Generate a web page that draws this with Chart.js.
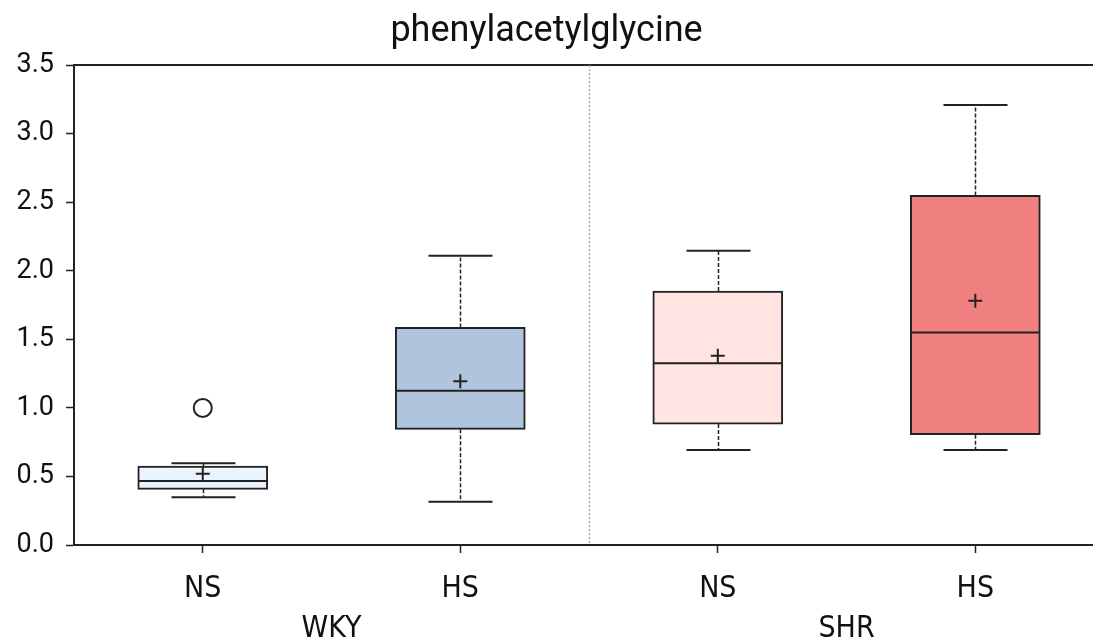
<!DOCTYPE html>
<html>
<head>
<meta charset="utf-8">
<script src="https://cdn.jsdelivr.net/npm/chart.js@4.4.1/dist/chart.umd.min.js"></script>
<style>
  html, body { margin: 0; padding: 0; background: #fff; overflow: hidden; }
  canvas { display: block; }
</style>
</head>
<body>
<canvas id="grafico" width="1093" height="641"></canvas>
<script>
// categorias
const subLabels = ['NS', 'HS', 'NS', 'HS'];
const groupLabels = ['WKY', 'SHR'];
const positions = [0, 1, 2, 3];
const groupPositions = [0.5, 2.5];
const divider = 1.5;

// estatisticas de cada caixa
const whiskerLow = [0.348, 0.316, 0.693, 0.693];
const q1 = [0.406, 0.844, 0.882, 0.804];
const median = [0.467, 1.125, 1.325, 1.551];
const q3 = [0.576, 1.587, 1.852, 2.55];
const whiskerHigh = [0.596, 2.11, 2.146, 3.21];
const means = [0.52, 1.194, 1.38, 1.781];
const outliers = [{ x: 0, y: 1.0 }];

const yTicks = [0, 0.5, 1.0, 1.5, 2.0, 2.5, 3.0, 3.5];

const boxColors = ['#ebf4fd', '#b0c4de', '#ffe4e1', '#f08080'];
const ink = '#222';

// bigodes, tampas e mediana
const boxPlugin = {
    id: 'boxExtras',
    beforeDatasetsDraw(chart) {
        const { ctx, scales: { x }, chartArea } = chart;
        // linha pontilhada separando os grupos
        ctx.save();
        ctx.strokeStyle = '#aaa';
        ctx.lineWidth = 1.5;
        ctx.setLineDash([2, 2]);
        const dx = Math.round(x.getPixelForValue(divider)) + 0.5;
        ctx.beginPath();
        ctx.moveTo(dx, chartArea.top);
        ctx.lineTo(dx, chartArea.bottom);
        ctx.stroke();
        ctx.restore();
    },
    afterDatasetDraw(chart, args) {
        if (args.index !== 0) return;
        const { ctx, scales: { x, y } } = chart;
        const half = 64.5;
        const cap = 32;
        ctx.save();
        ctx.strokeStyle = ink;
        positions.forEach((p, i) => {
            const cx = Math.round(x.getPixelForValue(p)) + 0.5;
            // bigodes tracejados
            ctx.lineWidth = 1.5;
            ctx.setLineDash([4, 2]);
            ctx.beginPath();
            ctx.moveTo(cx, y.getPixelForValue(q3[i]));
            ctx.lineTo(cx, y.getPixelForValue(whiskerHigh[i]));
            ctx.moveTo(cx, y.getPixelForValue(q1[i]));
            ctx.lineTo(cx, y.getPixelForValue(whiskerLow[i]));
            ctx.stroke();
            // tampas
            ctx.setLineDash([]);
            ctx.lineWidth = 2;
            ctx.beginPath();
            const yh = y.getPixelForValue(whiskerHigh[i]);
            const yl = y.getPixelForValue(whiskerLow[i]);
            ctx.moveTo(cx - cap, yh);
            ctx.lineTo(cx + cap, yh);
            ctx.moveTo(cx - cap, yl);
            ctx.lineTo(cx + cap, yl);
            // mediana
            const ym = y.getPixelForValue(median[i]);
            ctx.moveTo(cx - half, ym);
            ctx.lineTo(cx + half, ym);
            ctx.stroke();
        });
        ctx.restore();
    }
};

const ctx = document.getElementById('grafico').getContext('2d');

const grafico = new Chart(ctx, {
    type: 'bar',
    data: {
        datasets: [{
            label: 'caixas',
            data: positions.map((p, i) => ({ x: p, y: [q1[i], q3[i]] })),
            backgroundColor: boxColors,
            borderColor: ink,
            borderWidth: 2,
            borderSkipped: false,
            barThickness: 130,
            order: 2
        }, {
            type: 'scatter',
            label: 'media',
            data: positions.map((p, i) => ({ x: p, y: means[i] })),
            pointStyle: 'cross',
            radius: 7,
            borderColor: ink,
            borderWidth: 2,
            order: 1
        }, {
            type: 'scatter',
            label: 'outlier',
            data: outliers,
            pointStyle: 'circle',
            radius: 9,
            backgroundColor: '#fff',
            borderColor: ink,
            borderWidth: 2,
            order: 1
        }]
    },
    plugins: [boxPlugin],
    options: {
        responsive: false,
        animation: false,
        devicePixelRatio: 1,
        layout: { autoPadding: false, padding: { left: 0, right: 0, top: 0, bottom: 0 } },
        plugins: {
            legend: { display: false },
            tooltip: { enabled: false },
            title: {
                display: true,
                text: 'phenylacetylglycine',
                color: '#111',
                font: { family: 'Roboto', size: 36, weight: 'normal', lineHeight: 1.2 },
                padding: { top: 10, bottom: 12 }
            }
        },
        scales: {
            x: {
                type: 'linear',
                position: 'bottom',
                min: -0.5,
                max: 3.457,
                offset: false,
                weight: 0,
                afterBuildTicks: (s) => { s.ticks = positions.map(v => ({ value: v })); },
                afterFit: (s) => { s.height = 58; },
                grid: { display: true, offset: false, drawOnChartArea: false, tickLength: 8, color: ink, tickWidth: 1.5 },
                border: { display: true, color: ink, width: 2 },
                ticks: {
                    color: '#111',
                    padding: 18,
                    font: { family: 'DejaVu Sans Condensed', size: 30 },
                    callback: (v) => subLabels[positions.indexOf(v)]
                }
            },
            xg: {
                type: 'linear',
                position: 'bottom',
                axis: 'x',
                min: -0.5,
                max: 3.457,
                offset: false,
                weight: 1,
                afterBuildTicks: (s) => { s.ticks = groupPositions.map(v => ({ value: v })); },
                afterFit: (s) => { s.height = 38; },
                grid: { display: false },
                border: { display: false },
                ticks: {
                    color: '#111',
                    padding: 0,
                    font: { family: 'DejaVu Sans Condensed', size: 30 },
                    callback: (v) => groupLabels[groupPositions.indexOf(v)]
                }
            },
            xtop: {
                type: 'linear',
                position: 'top',
                axis: 'x',
                min: 0,
                max: 1,
                offset: false,
                afterFit: (s) => { s.height = 0; },
                grid: { display: false, drawTicks: false },
                border: { display: true, color: ink, width: 2 },
                ticks: { display: false }
            },
            y: {
                min: 0,
                max: 3.5,
                afterBuildTicks: (s) => { s.ticks = yTicks.map(v => ({ value: v })); },
                afterFit: (s) => { s.width = 74; },
                grid: { display: true, drawOnChartArea: false, tickLength: 8, color: ink, tickWidth: 1.5 },
                border: { display: true, color: ink, width: 2 },
                ticks: {
                    color: '#111',
                    padding: 12,
                    font: { family: 'Roboto', size: 27 },
                    callback: (v) => v.toFixed(1)
                }
            }
        }
    }
});
</script>
</body>
</html>
